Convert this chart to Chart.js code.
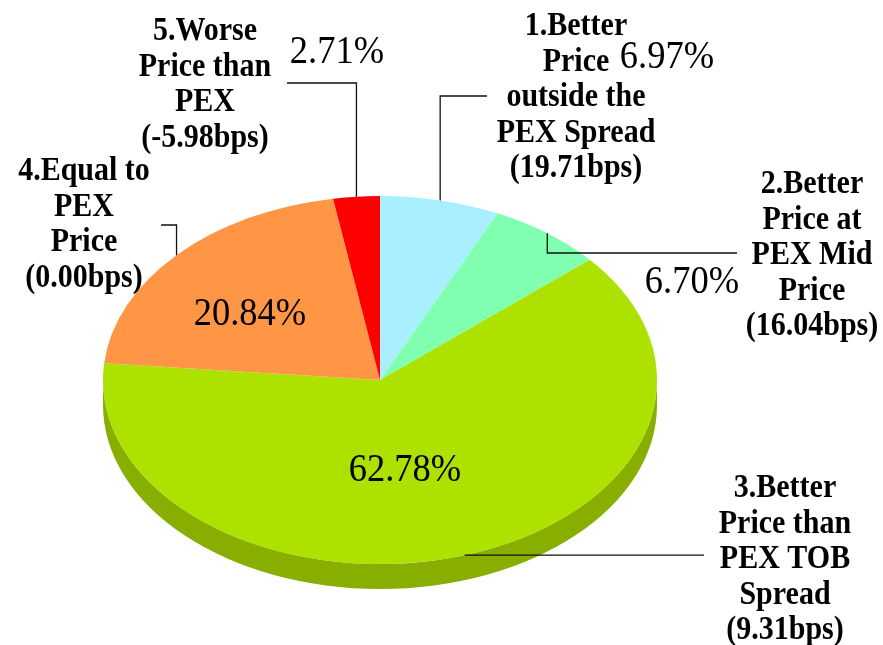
<!DOCTYPE html>
<html>
<head>
<meta charset="utf-8">
<script src="https://cdn.jsdelivr.net/npm/chart.js@4.4.1/dist/chart.umd.min.js"></script>
<style>
  body { margin: 0; background: #fff; }
  canvas { display: block; }
</style>
</head>
<body>
<canvas id="pie" width="883" height="645"></canvas>
<script>
// slice names (one entry per line of the label)
const categories = [
  ['1.Better', 'Price', 'outside the', 'PEX Spread', '(19.71bps)'],
  ['2.Better', 'Price at', 'PEX Mid', 'Price', '(16.04bps)'],
  ['3.Better', 'Price than', 'PEX TOB', 'Spread', '(9.31bps)'],
  ['4.Equal to', 'PEX', 'Price', '(0.00bps)'],
  ['5.Worse', 'Price than', 'PEX', '(-5.98bps)']
]
const shares = [6.97, 6.70, 62.78, 20.84, 2.71]
const pctLabels = ['6.97%', '6.70%', '62.78%', '20.84%', '2.71%']

const topColors = ['#a8f0ff', '#80ffb0', '#ade100', '#ff9646', '#ff0000']
const sideColors = ['#86c0cc', '#66cc8c', '#88ae00', '#cc7838', '#cc0000']

// where the labels sit (layout only)
const labelLayout = [
  { turnY: 96, endX: 487, textX: 576, textY: 35, pctX: 667, pctY: 68 },
  { turnY: 253, endX: 737, textX: 812, textY: 193, pctX: 692, pctY: 293 },
  { turnY: null, endX: 704, textX: 785, textY: 497, pctX: 405, pctY: 481 },
  { turnY: 225, endX: 161, textX: 84, textY: 180, pctX: 250, pctY: 325 },
  { turnY: 83, endX: 287, textX: 205, textY: 40, pctX: 337, pctY: 63 }
]

const TILT = 184 / 277   // vertical squash of the pie top
const CENTER_Y = 380
const DEPTH = 25
const LINE_H = 35.5
const TEXT_STRETCH = 1.1 // glyphs in the original are a bit taller

function tallText(ctx, text, x, y) {
  ctx.save()
  ctx.translate(x, y)
  ctx.scale(1, TEXT_STRETCH)
  ctx.fillText(text, 0, 0)
  ctx.restore()
}

const tilt3d = {
  id: 'tilt3d',
  beforeDatasetsDraw(chart) {
    const ctx = chart.ctx
    const arcs = chart.getDatasetMeta(0).data
    const cx = arcs[0].x, cy = arcs[0].y, r = arcs[0].outerRadius
    const ry = r * TILT
    // side wall, only the front half is visible
    arcs.forEach((arc, i) => {
      const s = Math.max(arc.startAngle, 0)
      const e = Math.min(arc.endAngle, Math.PI)
      if (e <= s) return
      ctx.beginPath()
      ctx.ellipse(cx, CENTER_Y, r, ry, 0, s, e)
      ctx.ellipse(cx, CENTER_Y + DEPTH, r, ry, 0, e, s, true)
      ctx.closePath()
      ctx.fillStyle = sideColors[i]
      ctx.fill()
    })
    ctx.save()
    ctx.translate(0, CENTER_Y)
    ctx.scale(1, TILT)
    ctx.translate(0, -cy)
  },
  afterDatasetsDraw(chart) {
    chart.ctx.restore()
  },
  afterDraw(chart) {
    const ctx = chart.ctx
    const arcs = chart.getDatasetMeta(0).data
    const cx = arcs[0].x, r = arcs[0].outerRadius
    const ry = r * TILT
    ctx.save()
    ctx.strokeStyle = '#111'
    ctx.lineWidth = 1.3
    ctx.fillStyle = '#000'
    ctx.textAlign = 'center'
    ctx.textBaseline = 'alphabetic'
    arcs.forEach((arc, i) => {
      const lay = labelLayout[i]
      const mid = (arc.startAngle + arc.endAngle) / 2
      const px = cx + r * Math.cos(mid)
      const py = CENTER_Y + ry * Math.sin(mid)
      ctx.beginPath()
      ctx.moveTo(px, py)
      if (lay.turnY !== null) {
        ctx.lineTo(px, lay.turnY)
        ctx.lineTo(lay.endX, lay.turnY)
      } else {
        ctx.lineTo(lay.endX, py)
      }
      ctx.stroke()

      ctx.font = 'bold 30px "Liberation Serif"'
      categories[i].forEach((line, j) => {
        tallText(ctx, line, lay.textX, lay.textY + j * LINE_H)
      })
      ctx.font = '36.5px "Liberation Serif"'
      tallText(ctx, pctLabels[i], lay.pctX, lay.pctY)
    })
    ctx.restore()
  }
}

new Chart(document.getElementById('pie'), {
  type: 'pie',
  data: {
    labels: categories.map(c => c.join(' ')),
    datasets: [
      {
        data: shares,
        backgroundColor: topColors,
        borderWidth: 0,
        hoverOffset: 0,
        clip: false
      }
    ]
  },
  options: {
    responsive: false,
    animation: false,
    events: [],
    radius: 277,
    layout: { padding: { left: 103, right: 226, top: 45, bottom: 46 } },
    plugins: {
      legend: { display: false },
      tooltip: { enabled: false }
    }
  },
  plugins: [tilt3d]
})
</script>
</body>
</html>
